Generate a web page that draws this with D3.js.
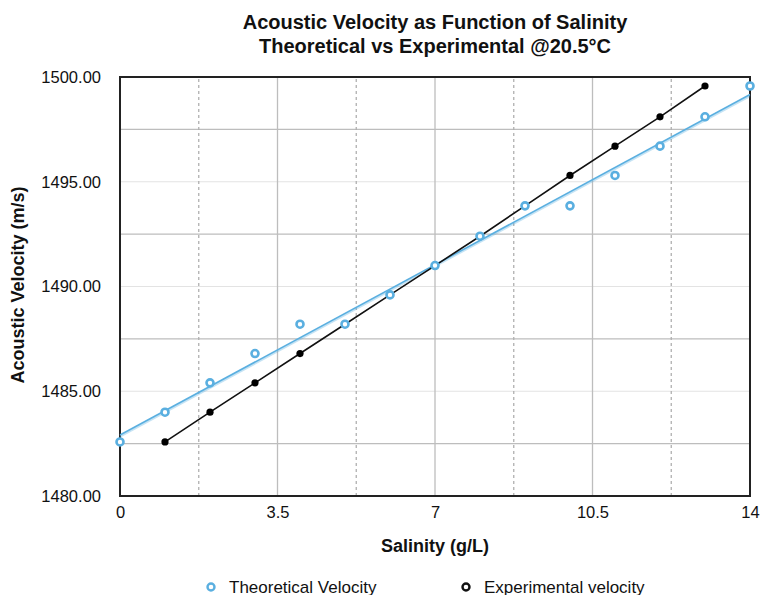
<!DOCTYPE html>
<html>
<head>
<meta charset="utf-8">
<script src="https://cdn.jsdelivr.net/npm/d3@7"></script>
<style>
  body { margin: 0; background: #fff; }
  svg text { font-family: "Liberation Sans", Arial, sans-serif; fill: #111; }
</style>
</head>
<body>
<div id="chart"></div>
<script>
// data
const salinity = [0, 1, 2, 3, 4, 5, 6, 7, 8, 9, 10, 11, 12, 13, 14];
const theoretical = [1482.58, 1484.0, 1485.4, 1486.8, 1488.2, 1488.2, 1489.6, 1491.0,
                     1492.4, 1493.85, 1493.85, 1495.3, 1496.7, 1498.1, 1499.57];
const expSalinity = [1, 2, 3, 4, 5, 6, 7, 8, 9, 10, 11, 12, 13];
const experimental = [1482.58, 1484.0, 1485.4, 1486.8, 1488.2, 1489.6, 1491.0,
                      1492.4, 1493.85, 1495.3, 1496.7, 1498.1, 1499.57];
const xTicks = [0, 3.5, 7, 10.5, 14];
const xMinor = [1.75, 5.25, 8.75, 12.25];
const yTicks = [1480, 1485, 1490, 1495, 1500];
const yMid = [1482.5, 1487.5, 1492.5, 1497.5];

const W = 760, H = 595;
const m = {left: 120, right: 10, top: 77, bottom: 99};
const blue = "#5aafe0";

const svg = d3.select("#chart").append("svg")
  .attr("width", W).attr("height", H);

const x = d3.scaleLinear().domain([0, 14]).range([m.left, W - m.right]);
const y = d3.scaleLinear().domain([1480, 1500]).range([H - m.bottom, m.top]);

// grid
const g = svg.append("g");
g.selectAll(".ymaj").data(yTicks).join("line")
  .attr("x1", x(0)).attr("x2", x(14))
  .attr("y1", d => y(d)).attr("y2", d => y(d))
  .attr("stroke", "#e3e3e3").attr("stroke-width", 1);
g.selectAll(".ymid").data(yMid).join("line")
  .attr("x1", x(0)).attr("x2", x(14))
  .attr("y1", d => y(d)).attr("y2", d => y(d))
  .attr("stroke", "#bdbdbd").attr("stroke-width", 1.3);
g.selectAll(".xmaj").data(xTicks).join("line")
  .attr("x1", d => x(d)).attr("x2", d => x(d))
  .attr("y1", y(1480)).attr("y2", y(1500))
  .attr("stroke", "#bdbdbd").attr("stroke-width", 1.3);
g.selectAll(".xmin").data(xMinor).join("line")
  .attr("x1", d => x(d)).attr("x2", d => x(d))
  .attr("y1", y(1480)).attr("y2", y(1500))
  .attr("stroke", "#b0b0b0").attr("stroke-width", 1.3)
  .attr("stroke-dasharray", "3,3");

// frame
svg.append("rect")
  .attr("x", x(0)).attr("y", y(1500))
  .attr("width", x(14) - x(0)).attr("height", y(1480) - y(1500))
  .attr("fill", "none").attr("stroke", "#222").attr("stroke-width", 2);

// axes
const xAxis = svg.append("g").attr("transform", `translate(0,${y(1480)})`)
  .call(d3.axisBottom(x).tickValues(xTicks).tickSize(0).tickPadding(10)
    .tickFormat(d => d));
const yAxis = svg.append("g").attr("transform", `translate(${x(0)},0)`)
  .call(d3.axisLeft(y).tickValues(yTicks).tickSize(0).tickPadding(19)
    .tickFormat(d3.format(".2f")));
[xAxis, yAxis].forEach(a => {
  a.select(".domain").remove();
  a.selectAll("text").style("font-size", "16.5px").attr("fill", "#111");
});

// trendline for theoretical (least squares)
const mx = d3.mean(salinity), my = d3.mean(theoretical);
const slope = d3.sum(salinity, (d, i) => (d - mx) * (theoretical[i] - my)) /
              d3.sum(salinity, d => (d - mx) * (d - mx));
const icpt = my - slope * mx;
const trend = [0, 14].map(s => [s, icpt + slope * s]);

const line = d3.line().x(d => x(d[0])).y(d => y(d[1]));

svg.append("path").datum(trend).attr("d", line)
  .attr("transform", "translate(0,1.5)")
  .attr("fill", "none").attr("stroke", blue).attr("stroke-opacity", 0.35)
  .attr("stroke-width", 2);
svg.append("path").datum(trend).attr("d", line)
  .attr("fill", "none").attr("stroke", blue).attr("stroke-width", 1.6);

// experimental line + dots
const expPts = expSalinity.map((s, i) => [s, experimental[i]]);
svg.append("path").datum(expPts).attr("d", line)
  .attr("fill", "none").attr("stroke", "#111").attr("stroke-width", 1.6);
svg.selectAll(".exp").data(expPts).join("circle")
  .attr("cx", d => x(d[0])).attr("cy", d => y(d[1])).attr("r", 3.6)
  .attr("fill", "#000");

// theoretical hollow markers
const thPts = salinity.map((s, i) => [s, theoretical[i]]);
svg.selectAll(".th").data(thPts).join("circle")
  .attr("cx", d => x(d[0])).attr("cy", d => y(d[1])).attr("r", 3.5)
  .attr("fill", "#fff").attr("stroke", blue).attr("stroke-width", 2.6);

// titles
svg.append("text").attr("x", 435).attr("y", 29).attr("text-anchor", "middle")
  .style("font-size", "20px").style("font-weight", "bold")
  .text("Acoustic Velocity as Function of Salinity");
svg.append("text").attr("x", 435).attr("y", 53).attr("text-anchor", "middle")
  .style("font-size", "20px").style("font-weight", "bold")
  .text("Theoretical vs Experimental @20.5°C");
svg.append("text").attr("x", 435).attr("y", 552).attr("text-anchor", "middle")
  .style("font-size", "18px").style("font-weight", "bold")
  .text("Salinity (g/L)");
svg.append("text").attr("transform", "translate(24,285) rotate(-90)")
  .attr("text-anchor", "middle")
  .style("font-size", "18px").style("font-weight", "bold")
  .text("Acoustic Velocity (m/s)");

// legend
const legendItems = [
  {label: "Theoretical Velocity", color: blue, x: 211},
  {label: "Experimental velocity", color: "#111", x: 466}
];
const lg = svg.selectAll(".lg").data(legendItems).join("g")
  .attr("transform", d => `translate(${d.x},587)`);
lg.append("circle").attr("r", 3.5).attr("fill", "#fff")
  .attr("stroke", d => d.color).attr("stroke-width", 2.4);
lg.append("text").attr("x", 18).attr("y", 6).style("font-size", "17px")
  .text(d => d.label);
</script>
</body>
</html>
